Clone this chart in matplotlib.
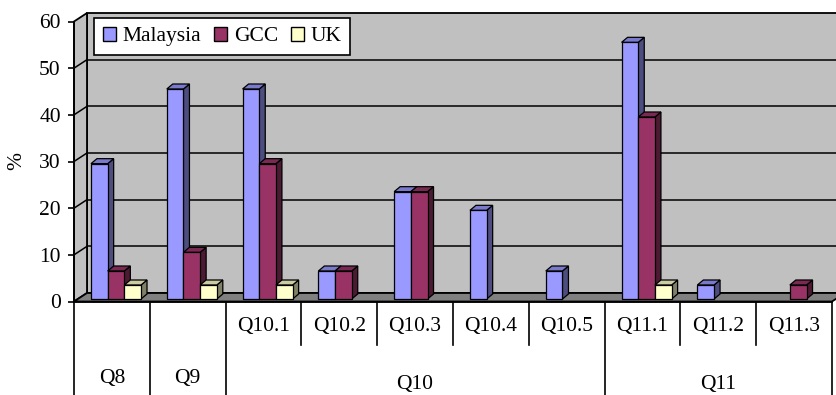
import numpy as np
import matplotlib.pyplot as plt
from matplotlib.patches import Polygon, Patch
from matplotlib.transforms import ScaledTranslation

plt.rcParams['font.family'] = ['Liberation Serif', 'DejaVu Serif']

# survey results (% of respondents)
sub_labels = ["", "", "Q10.1", "Q10.2", "Q10.3", "Q10.4", "Q10.5", "Q11.1", "Q11.2", "Q11.3"]
group_labels = ["Q8", "Q9", "Q10", "Q11"]
group_spans = [(0, 1), (1, 2), (2, 7), (7, 10)]
malaysia = [29, 45, 45, 6, 23, 19, 6, 55, 3, 0]
gcc = [6, 10, 29, 6, 23, 0, 0, 39, 0, 3]
uk = [3, 3, 3, 0, 0, 0, 0, 3, 0, 0]
series_names = ["Malaysia", "GCC", "UK"]
yticks = [0, 10, 20, 30, 40, 50, 60]

front_colors = ["#9999FF", "#993366", "#FFFFCC"]
top_colors = ["#7A7ACC", "#7A2952", "#CCCCA3"]
side_colors = ["#4D4D80", "#4D1A33", "#808066"]

FS = 15.5
W, H, DPI = 837, 395, 100
fig = plt.figure(figsize=(W / DPI, H / DPI), dpi=DPI)
fig.patch.set_facecolor("white")

# front plane of the 3-D box
ax = fig.add_axes([74 / W, (H - 301.5) / H, 758 / W, 280 / H])
n = len(sub_labels)
ax.set_xlim(0, n)
ax.set_ylim(0, 60)
ax.patch.set_visible(False)
for s in ["top", "right", "bottom"]:
    ax.spines[s].set_visible(False)
ax.spines["left"].set_linewidth(1.3)
ax.spines["left"].set_zorder(6)
ax.set_xticks([])
ax.set_yticks(yticks)
ax.tick_params(axis="y", direction="out", length=4.5, width=1.2, pad=5, labelsize=FS)

# pixel -> data conversions
sx = n / 758.0
sy = 60 / 280.0
wall_dx, wall_dy = 13 * sx, 8.5 * sy      # depth of the box
bar_dx, bar_dy = 6 * sx, 5 * sy           # depth of each bar

grey = "#C0C0C0"
back = Polygon([(wall_dx, wall_dy), (n + 2 * wall_dx, wall_dy),
                (n + 2 * wall_dx, 60 + wall_dy), (wall_dx, 60 + wall_dy)],
               closed=True, facecolor=grey, edgecolor="black", lw=1.3,
               zorder=0, clip_on=False)
ax.add_patch(back)
left_wall = Polygon([(0, 0), (0, 60), (wall_dx, 60 + wall_dy), (wall_dx, wall_dy)],
                    closed=True, facecolor=grey, edgecolor="black", lw=1.3,
                    zorder=1, clip_on=False)
ax.add_patch(left_wall)
floor = Polygon([(0, 0), (n, 0), (n + wall_dx, wall_dy), (wall_dx, wall_dy)],
                closed=True, facecolor="#808080", edgecolor="black", lw=1.3,
                zorder=1, clip_on=False)
ax.add_patch(floor)

# gridlines on back and left walls
for v in yticks[1:-1]:
    ax.plot([wall_dx, n + 2 * wall_dx], [v + wall_dy, v + wall_dy], color="black",
            lw=1.1, zorder=0.5, clip_on=False)
    ax.plot([0, wall_dx], [v, v + wall_dy], color="black", lw=1.1, zorder=1.5,
            clip_on=False)

# bars sit a little behind the front edge of the floor
bar_tr = ax.transData + ScaledTranslation(0, 2.5 / DPI, fig.dpi_scale_trans)
width = 0.22
x0 = 0.224
all_vals = [malaysia, gcc, uk]
for k, vals in enumerate(all_vals):
    vals = np.array(vals, dtype=float)
    idx = np.nonzero(vals)[0]
    xs = idx + x0 + k * width
    z = 3 + k
    for xl, v in zip(xs, vals[idx]):
        xr = xl + width
        side = Polygon([(xr, 0), (xr + bar_dx, bar_dy), (xr + bar_dx, v + bar_dy), (xr, v)],
                       closed=True, facecolor=side_colors[k], edgecolor="black", lw=0.9,
                       transform=bar_tr, zorder=z, clip_on=False)
        top = Polygon([(xl, v), (xr, v), (xr + bar_dx, v + bar_dy), (xl + bar_dx, v + bar_dy)],
                      closed=True, facecolor=top_colors[k], edgecolor="black", lw=0.9,
                      transform=bar_tr, zorder=z, clip_on=False)
        ax.add_patch(side)
        ax.add_patch(top)
    ax.bar(xs, vals[idx], width=width, align="edge", color=front_colors[k],
           edgecolor="black", linewidth=0.9, transform=bar_tr, zorder=z + 0.5,
           clip_on=False)

# category table underneath
xtr = ax.get_xaxis_transform()
bottom = -(H - 301.5) / 280
short = -(345 - 301.5) / 280
full_edges = sorted({e for span in group_spans for e in span})
for e in full_edges:
    ax.plot([e, e], [0, bottom], color="black", lw=1.2, transform=xtr, clip_on=False)
for e in range(1, n):
    if e not in full_edges:
        ax.plot([e, e], [0, short], color="black", lw=1.2, transform=xtr, clip_on=False)
ax.plot([0, n], [0, 0], color="black", lw=1.3, transform=xtr, clip_on=False, zorder=6)

for i, lab in enumerate(sub_labels):
    if lab:
        ax.text(i + 0.5, -(327 - 301.5) / 280, lab, transform=xtr, ha="center",
                va="center", fontsize=FS)
for lab, (a, b) in zip(group_labels, group_spans):
    yy = 378.5 if b - a == 1 else 385
    ax.text((a + b) / 2, -(yy - 301.5) / 280, lab, transform=xtr, ha="center",
            va="center", fontsize=FS)

fig.text(17 / W, 1 - 161 / H, "%", rotation=90, ha="center", va="center", fontsize=FS)

handles = [Patch(facecolor=c, edgecolor="black", linewidth=1) for c in front_colors]
leg = ax.legend(handles, series_names, loc="upper left", ncol=3,
                bbox_to_anchor=(94 / W, 1 - 18 / H), bbox_transform=fig.transFigure,
                borderaxespad=0, fontsize=FS, handlelength=0.62, handleheight=0.65,
                handletextpad=0.3, columnspacing=0.6, borderpad=0.4,
                fancybox=False, framealpha=1, edgecolor="black")
leg.get_frame().set_linewidth(1.2)
leg.set_zorder(10)

fig.savefig("out.png", dpi=DPI)
